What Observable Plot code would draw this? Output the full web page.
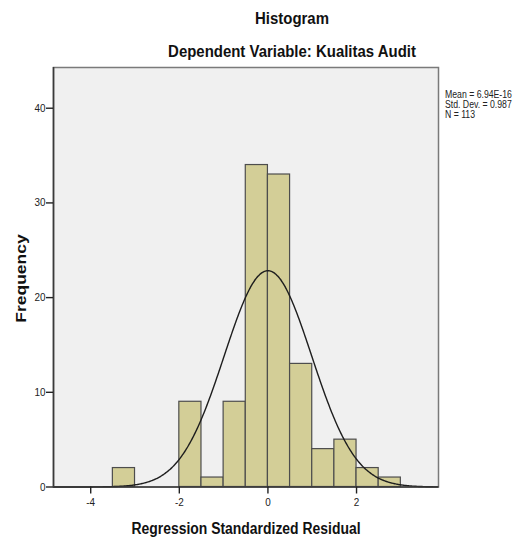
<!DOCTYPE html>
<html>
<head>
<meta charset="utf-8">
<script src="https://cdn.jsdelivr.net/npm/d3@7"></script>
<script src="https://cdn.jsdelivr.net/npm/@observablehq/plot@0.6"></script>
<style>
  html, body { margin: 0; padding: 0; background: #fff; }
  #wrap { position: relative; width: 523px; height: 538px; overflow: hidden; }
  #wrap svg { position: absolute; left: 0; top: 0; }
  #overlay { pointer-events: none; }
</style>
</head>
<body>
<div id="wrap"></div>
<script>
// ---- data ----
const binStarts = [-3.5, -2, -1.5, -1, -0.5, 0, 0.5, 1, 1.5, 2, 2.5];
const binCounts = [2, 9, 1, 9, 34, 33, 13, 4, 5, 2, 1];
const binWidth = 0.5;
const xTicks = [-4, -2, 0, 2];
const yTicks = [0, 10, 20, 30, 40];
const statMean = 6.94e-16;
const statSd = 0.987;
const statN = 113;
const legendLines = ["Mean = 6.94E-16", "Std. Dev. = 0.987", "N = 113"];
const titleText = "Histogram";
const subtitleText = "Dependent Variable: Kualitas Audit";
const xLabel = "Regression Standardized Residual";
const yLabel = "Frequency";

// ---- derived tables ----
const bins = binStarts.map((s, i) => ({x1: s, x2: s + binWidth, count: binCounts[i]}));
const xDomain = [-4.84, 3.85];
const peak = statN * binWidth / (statSd * Math.sqrt(2 * Math.PI));
const curve = d3.range(xDomain[0], xDomain[1] + 1e-9, 0.02).map(x => ({
  x, y: peak * Math.exp(-0.5 * ((x - statMean) / statSd) ** 2)
}));

const W = 523, H = 538;
const chart = Plot.plot({
  width: W,
  height: H,
  marginLeft: 53,
  marginRight: 85,
  marginTop: 67,
  marginBottom: 51.5,
  style: {fontFamily: "'Liberation Sans', Arial, sans-serif", fontSize: "11px", color: "#222", background: "transparent", overflow: "visible"},
  x: {domain: xDomain},
  y: {domain: [0, 44.3]},
  marks: [
    Plot.frame({fill: "#f0f0f0", stroke: "#7a7a7a", strokeWidth: 1.5}),
    Plot.rectY(bins, {x1: "x1", x2: "x2", y: "count", fill: "#d3ce97", stroke: "#4d4d4d", strokeWidth: 1.2, inset: 0}),
    Plot.line(curve, {x: "x", y: "y", stroke: "#1e1e1e", strokeWidth: 1.4, curve: "basis"}),
    Plot.ruleY([0], {stroke: "#3a3a3a", strokeWidth: 1.6}),
    Plot.ruleX([xDomain[0]], {stroke: "#3a3a3a", strokeWidth: 1.6}),
    Plot.axisX({ticks: xTicks, tickSize: 7, tickPadding: 4, label: null, tickFormat: d => String(d), strokeWidth: 1.4, fontSize: 11}),
    Plot.axisY({ticks: yTicks, tickSize: 7, tickPadding: 1, label: null, tickFormat: d => String(d), strokeWidth: 1.4, fontSize: 11})
  ]
});
const wrap = document.getElementById("wrap");
wrap.appendChild(chart);

// slightly condensed tick labels, as in the reference
chart.querySelectorAll("g[aria-label$='tick label'] text").forEach(t => {
  const len = t.getComputedTextLength();
  if (len > 0) { t.setAttribute("textLength", len * 0.9); t.setAttribute("lengthAdjust", "spacingAndGlyphs"); }
});

// ---- titles, axis titles and stats legend (real text) ----
const ns = "http://www.w3.org/2000/svg";
const ov = document.createElementNS(ns, "svg");
ov.setAttribute("id", "overlay");
ov.setAttribute("width", W);
ov.setAttribute("height", H);
ov.setAttribute("font-family", "'Liberation Sans', Arial, sans-serif");
wrap.appendChild(ov);
function addText(str, tf, size, weight, anchor, fill) {
  const t = document.createElementNS(ns, "text");
  t.setAttribute("transform", tf);
  t.setAttribute("font-size", size);
  t.setAttribute("font-weight", weight);
  t.setAttribute("text-anchor", anchor);
  t.setAttribute("fill", fill || "#111");
  t.textContent = str;
  ov.appendChild(t);
  return t;
}
addText(titleText, "translate(292,24) scale(0.88,1)", 17, "bold", "middle");
addText(subtitleText, "translate(292,57) scale(0.88,1)", 17, "bold", "middle");
addText(xLabel, "translate(246,534) scale(0.82,1)", 17, "bold", "middle");
addText(yLabel, "translate(25.5,278.5) rotate(-90) scale(1,0.86)", 17.5, "bold", "middle");
legendLines.forEach((s, i) => {
  addText(s, `translate(445,${97.5 + i * 10}) scale(0.87,1)`, 10, "normal", "start", "#222");
});
</script>
</body>
</html>
